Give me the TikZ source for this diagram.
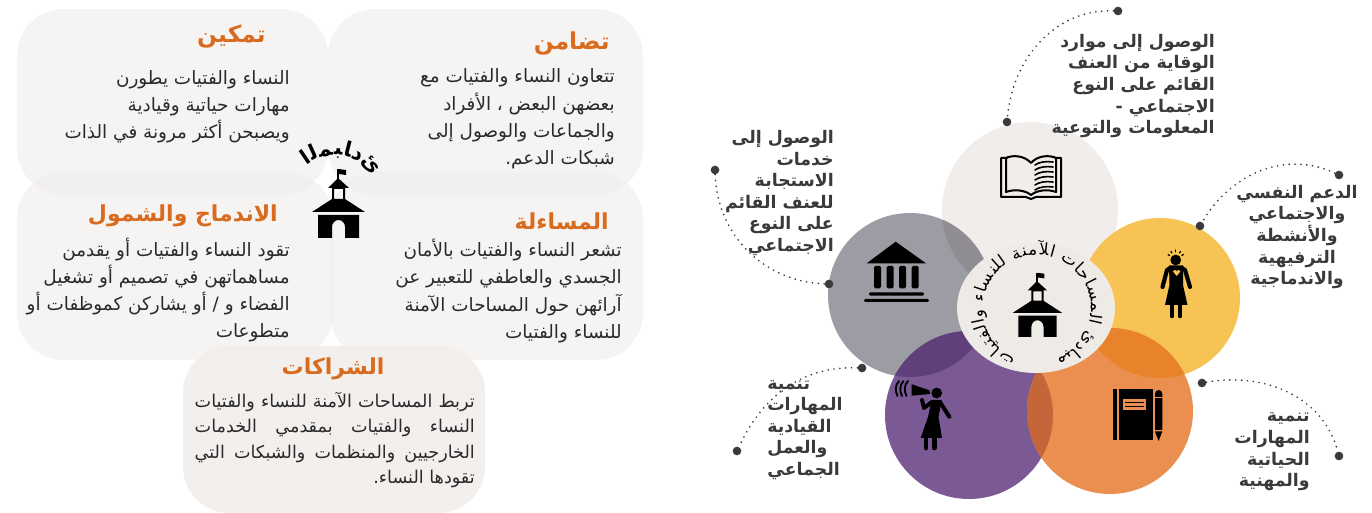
\documentclass[tikz,border=0pt]{standalone}
\usepackage{fontspec}
\usetikzlibrary{calc}
\TeXXeTstate=1
\newfontfamily\arfont[Script=Arabic]{DejaVu Sans}
\newfontfamily\arcfont{DejaVu Sans}
\definecolor{cardc}{HTML}{F1EEEC}
\definecolor{headc}{HTML}{D96B1F}
\definecolor{bodyc}{HTML}{2A2A2C}
\definecolor{labc}{HTML}{3A393C}
\definecolor{cbook}{HTML}{F0EDEA}
\definecolor{cgray}{HTML}{9C9DA4}
\definecolor{cyel}{HTML}{F6C354}
\definecolor{cpur}{HTML}{7A5994}
\definecolor{cora}{HTML}{EA8F50}
\definecolor{ccen}{HTML}{EEEAE6}
\definecolor{ovga}{HTML}{8F8D91}
\definecolor{ovpu}{HTML}{60407A}
\definecolor{ovor}{HTML}{E8832B}
\definecolor{ovpo}{HTML}{C4653A}
\newcommand\RL[1]{\beginR #1\endR}
\newcount\glc
\newlength\glw
\newcommand\arcset[6]{\def\arcx{#1}\def\arcy{#2}\def\arcr{#3}\def\arcang{#4}\def\arcfnt{#5}\def\arcgap{#6}}
\newcommand\ag[1]{%
  \pgfinterruptpicture\global\setbox1\hbox{\arcfnt #1}\endpgfinterruptpicture
  \glw=\wd1
  \global\advance\glc by 1
  \pgfmathsetmacro\ahalf{0.5*\the\glw/(\arcr*0.75)*57.2958}
  \pgfmathsetmacro\amid{\arcang+\ahalf}
  \pgfmathsetmacro\anext{\arcang+2*\ahalf+\arcgap}
  \node[inner sep=0pt,anchor=base,rotate=\amid-90,font=\arcfnt,text=black] (g\the\glc) at ({\arcx+\arcr*cos(\amid)},{\arcy-\arcr*sin(\amid)}) {#1};
  \global\let\arcang\anext}
\newcommand\schoolicon[3]{% x y scale
\begin{scope}[shift={(#1,#2)},scale=#3]
  \fill[black,even odd rule] (-20,0) -- (-20,-23) -- (21,-23) -- (21,0) -- (7,0) -- (7,-11) arc[start angle=0,end angle=180,x radius=6.5,y radius=-7] -- (-6,0) -- cycle;
  \fill[black,even odd rule] (-26,-26) -- (-6,-39) -- (-6,-50) -- (-10,-50) -- (0,-60) -- (11,-50) -- (7,-50) -- (7,-39) -- (27,-26) -- cycle
     (-4,-39) rectangle (5,-49);
  \fill[black] (-0.6,-59) rectangle (0.6,-69);
  \fill[black] (0.6,-69) -- (8,-68) -- (8,-63) -- (0.6,-64) -- cycle;
\end{scope}}
\tikzset{
  card/.style={fill=cardc,opacity=.62,rounded corners=35pt},
  body/.style={font=\arfont\fontsize{13.8}{20.4}\selectfont,text=bodyc,align=right,inner sep=0pt,anchor=east},
  head/.style={font=\arfont\bfseries\fontsize{16.5}{18}\selectfont,text=headc,inner sep=0pt},
  lab/.style={font=\arfont\bfseries\fontsize{13}{16.2}\selectfont,text=labc,inner sep=0pt},
  dotn/.style={circle,fill=labc,minimum size=6.5pt,inner sep=0pt},
  dotl/.style={draw=labc,line width=1.4pt,line cap=round,dash pattern=on 0pt off 4.4pt},
  ic/.style={line width=1.5pt,draw=black,line cap=round,line join=round},
  limb/.style={line cap=round,line join=round,draw=black},
}
\begin{document}
\begin{tikzpicture}[x=0.75pt,y=-0.75pt]
\useasboundingbox (0,0) rectangle (1372,513);
\fill[white] (0,0) rectangle (1372,513);
% cards
\fill[card] (17,9) rectangle (328,195);
\fill[card] (328,9) rectangle (643,195);
\fill[card] (17,172) rectangle (333,360);
\fill[card] (330,172) rectangle (643,360);
\fill[card,opacity=.9] (183,346) rectangle (485,513);
% headings
\node[head,anchor=east,font=\arfont\bfseries\fontsize{17.5}{18}\selectfont] (h1) at (266,36) {\RL{تمكين}};
\node[head,anchor=east,font=\arfont\bfseries\fontsize{17.5}{18}\selectfont] (h2) at (610,43) {\RL{تضامن}};
\node[head,anchor=east] (h3) at (278,216) {\RL{الاندماج والشمول}};
\node[head,anchor=east] (h4) at (609,221) {\RL{المساءلة}};
\node[head] (h5) at (333,369) {\RL{الشراكات}};
% body
\node[body] (b1) at (290,107) {\RL{النساء والفتيات يطورن}\\\RL{مهارات حياتية وقيادية}\\\RL{ويصبحن أكثر مرونة في الذات}};
\node[body] (b2) at (615,119) {\RL{تتعاون النساء والفتيات مع}\\\RL{بعضهن البعض ، الأفراد}\\\RL{والجماعات والوصول إلى}\\\RL{شبكات الدعم.}};
\node[body] (b3) at (290,290) {\RL{تقود النساء والفتيات أو يقدمن}\\\RL{مساهماتهن في تصميم أو تشغيل}\\\RL{الفضاء و / أو يشاركن كموظفات أو}\\\RL{متطوعات}};
\node[body] (b4) at (622,291) {\RL{تشعر النساء والفتيات بالأمان}\\\RL{الجسدي والعاطفي للتعبير عن}\\\RL{آرائهن حول المساحات الآمنة}\\\RL{للنساء والفتيات}};
\node[body,font=\arfont\fontsize{13.2}{19}\selectfont] (b5) at (475,440) {\hbox to 210pt{\beginR تربط\hfill المساحات\hfill الآمنة\hfill للنساء\hfill والفتيات\endR}\\\hbox to 210pt{\beginR النساء\hfill والفتيات\hfill بمقدمي\hfill الخدمات\endR}\\\hbox to 210pt{\beginR الخارجيين\hfill والمنظمات\hfill والشبكات\hfill التي\endR}\\\RL{تقودها النساء.}};
% left school and arc
\schoolicon{338}{238}{1}
\arcset{335}{201}{46}{33}{\arcfont\bfseries\fontsize{15.5}{17}\selectfont}{0.5}
\ag{^^^^fe89}\ag{^^^^fea9}\ag{^^^^fe8e}\ag{^^^^fe92}\ag{^^^^fee4}\ag{^^^^fedf}\ag{^^^^fe8d}
% big circles
\fill[cbook] (1030,210) circle[radius=88];
\fill[cgray] (910,295) circle[radius=82];
\fill[cyel] (1160,298) circle[radius=80];
\fill[cpur] (969,415) circle[radius=84];
\fill[cora] (1110,411) circle[radius=83];
\begin{scope}\clip (1030,210) circle[radius=88];\fill[ovga] (910,295) circle[radius=82];\end{scope}
\begin{scope}\clip (910,295) circle[radius=82];\fill[ovpu] (969,415) circle[radius=84];\end{scope}
\begin{scope}\clip (1160,298) circle[radius=80];\fill[ovor] (1110,411) circle[radius=83];\end{scope}
\begin{scope}\clip (969,415) circle[radius=84];\fill[ovpo] (1110,411) circle[radius=83];\end{scope}
\fill[ccen] (1036,308) ellipse[x radius=79,y radius=65];
% centre school & ring
\schoolicon{1037}{337}{.93}
\arcset{1037}{309}{54}{-68}{\arcfont\fontsize{12.4}{15}\selectfont}{.9}
\ag{^^^^fee3}\ag{^^^^fe92}\ag{^^^^fe8e}\ag{^^^^fea9}\ag{^^^^fe89}\ag{\ }%
\ag{^^^^fe8d}\ag{^^^^fedf}\ag{^^^^fee4}\ag{^^^^feb4}\ag{^^^^fe8e}\ag{^^^^fea3}\ag{^^^^fe8e}\ag{^^^^fe95}\ag{\ }%
\ag{^^^^fe8d}\ag{^^^^fef6}\ag{^^^^fee3}\ag{^^^^fee8}\ag{^^^^fe94}\ag{\ }%
\ag{^^^^fedf}\ag{^^^^fee0}\ag{^^^^fee8}\ag{^^^^feb4}\ag{^^^^fe8e}\ag{^^^^fe80}\ag{\ }%
\ag{^^^^feed}\ag{^^^^fe8d}\ag{^^^^fedf}\ag{^^^^fed4}\ag{^^^^fe98}\ag{^^^^fef4}\ag{^^^^fe8e}\ag{^^^^fe95}
% book icon
\draw[ic] (1007,158) -- (1001,158) -- (1001,197) -- (1026,197) -- (1031,199) -- (1036,197) -- (1061,197) -- (1061,158) -- (1055,158);
\draw[ic] (1031,163) .. controls (1024,155) and (1012,155) .. (1006,158) -- (1006,192) .. controls (1014,189) and (1025,190) .. (1031,195) .. controls (1037,190) and (1048,189) .. (1056,192) -- (1056,158) .. controls (1050,155) and (1038,155) .. (1031,163) -- cycle;
\foreach \yy in {165,170,175,180,185,190}{\draw[line width=1.2pt,line cap=round] (1035,\yy) .. controls (1039,\yy-3) and (1046,\yy-4) .. (1053,\yy-3);}
% building icon
\fill[black] (895.7,241.7) -- (926,263.3) -- (866.7,263.3) -- cycle;
\foreach \xx in {874,886.7,899,911.7}{\fill[black,rounded corners=1pt] (\xx,266) rectangle (\xx+7,288.3);}
\fill[black,rounded corners=1pt] (869,292.3) rectangle (924,295.7);
\fill[black,rounded corners=1pt] (864,299) rectangle (929,302);
% yellow woman
\fill[black] (1175.7,260) circle[radius=5.4];
\fill[black] (1169,265.5) -- (1183,265.5) -- (1183,285) -- (1187.5,305) -- (1165,305) -- (1169.5,285) -- cycle;
\draw[limb,line width=3.5pt] (1172,304) -- (1172,316);
\draw[limb,line width=3.5pt] (1180,304) -- (1180,316);
\draw[limb,line width=3.1pt] (1170,268) -- (1167,270) -- (1162.5,287);
\draw[limb,line width=3.1pt] (1182,268) -- (1185,270) -- (1190,287);
\fill[cyel] (1176.7,276) -- (1173,271.5) .. controls (1173.3,269.5) and (1176,269.5) .. (1176.7,271) .. controls (1177.4,269.5) and (1180,269.5) .. (1180.4,271.5) -- cycle;
\foreach \rx/\ry/\ex/\ey in {1168/254.5/1169.6/255.5,1171/251.5/1171.8/253,1175.7/250/1175.7/251.8,1180.4/251.5/1179.6/253,1183.4/254.5/1181.8/255.5}{\draw[line width=.9pt,line cap=round] (\rx,\ry) -- (\ex,\ey);}
% purple woman
\fill[black] (936.7,393) circle[radius=5.4];
\fill[black] (931.7,400) -- (941.7,400) -- (938.5,417) -- (942,438) -- (920.7,438) -- (928,417) -- cycle;
\draw[limb,line width=3.5pt] (926,437) -- (926,448);
\draw[limb,line width=3.5pt] (934.3,437) -- (934.3,448);
\draw[limb,line width=3pt] (932,402) -- (924,408) -- (922,400);
\draw[limb,line width=3pt] (940,402) -- (949.3,416.7);
\fill[black] (911.7,384.3) -- (929.5,390.3) -- (930,394) -- (911.7,395.7) -- cycle;
\foreach \px in {906.5,902,897.5}{\draw[line width=1.4pt,line cap=round] (\px+1.5,381) .. controls (\px-2.5,385) and (\px-2.5,391) .. (\px,396);}
% notebook
\fill[black] (1113.3,389.3) rectangle (1117,440);
\fill[black] (1119,389.3) rectangle (1152.7,440);
\fill[cora] (1123.3,399) rectangle (1145.7,410);
\fill[black] (1124.8,402) rectangle (1144.2,403.2);
\fill[black] (1124.8,405.8) rectangle (1144.2,407);
\fill[black] (1155,430) -- (1155,393.5) .. controls (1155,389) and (1162.3,389) .. (1162.3,393.5) -- (1162.3,430) -- cycle;
\fill[cora] (1155,397.5) rectangle (1162.3,398.3);
\fill[black] (1155,431.5) -- (1162.3,431.5) -- (1158.6,441) -- cycle;
% labels
\node[lab,align=right,anchor=east] (l1) at (1215,86) {\RL{الوصول إلى موارد}\\\RL{الوقاية من العنف}\\\RL{القائم على النوع}\\\RL{الاجتماعي -}\\\RL{المعلومات والتوعية}};
\node[lab,align=right,anchor=east] (l2) at (834,193) {\RL{الوصول إلى}\\\RL{خدمات}\\\RL{الاستجابة}\\\RL{للعنف القائم}\\\RL{على النوع}\\\RL{الاجتماعي}};
\node[lab,align=center] (l3) at (1297,237) {\RL{الدعم النفسي}\\\RL{والاجتماعي}\\\RL{والأنشطة}\\\RL{الترفيهية}\\\RL{والاندماجية}};
\node[lab,align=left,anchor=west] (l4) at (767,430) {\RL{تنمية}\\\RL{المهارات}\\\RL{القيادية}\\\RL{والعمل}\\\RL{الجماعي}};
\node[lab,align=right,anchor=east] (l5) at (1310,452) {\RL{تنمية}\\\RL{المهارات}\\\RL{الحياتية}\\\RL{والمهنية}};
% dots and connectors
\node[dotn] (a1) at (1118,11) {}; \node[dotn] (a2) at (1007,122) {};
\node[dotn] (b1d) at (715,170) {}; \node[dotn] (b2d) at (829,284) {};
\node[dotn] (c1) at (1339,175) {}; \node[dotn] (c2) at (1200,226) {};
\node[dotn] (d1) at (862,368) {}; \node[dotn] (d2) at (737,451) {};
\node[dotn] (e1) at (1202,383) {}; \node[dotn] (e2) at (1339,456) {};
\draw[dotl] (a1) to[out=178,in=85] (a2);
\draw[dotl] (b1d) to[out=-88,in=178] (b2d);
\draw[dotl] (c1) to[out=155,in=60] (c2);
\draw[dotl] (d1) to[out=178,in=65] (d2);
\draw[dotl] (e1) to[out=10,in=105] (e2);
\end{tikzpicture}
\end{document}
